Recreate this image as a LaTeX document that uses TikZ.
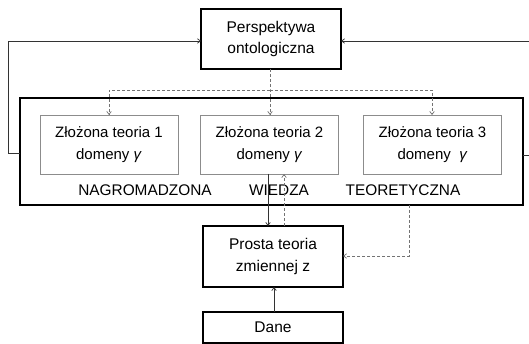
\documentclass[tikz,border=0pt]{standalone}
\usepackage{fontspec}
\setmainfont{Liberation Sans}
\usetikzlibrary{arrows.meta}
\tikzset{
  thickbox/.style={draw=black, line width=2.6pt, align=center, inner sep=0pt, outer sep=0pt, font=\fontsize{15.5}{21.5}\selectfont},
  thinbox/.style={draw=black!45, line width=0.9pt, align=center, inner sep=0pt, outer sep=0pt, minimum width=138pt, minimum height=59pt, font=\fontsize{15}{22}\selectfont},
  lbl/.style={inner sep=0pt, font=\fontsize{15.4}{18}\selectfont},
  conn/.style={draw=black!80, line width=0.7pt, -{Straight Barb[length=3pt,width=4.5pt]}},
  dconn/.style={draw=black!55, line width=0.7pt, dash pattern=on 3pt off 2pt, -{Straight Barb[length=3pt,width=4.5pt]}},
}
\begin{document}
\begin{tikzpicture}[x=1pt,y=-1pt]
\useasboundingbox (0,0) rectangle (529,344);
\fill[white] (0,0) rectangle (529,344);
% nodes
\node[thickbox, minimum width=140pt, minimum height=60pt] (persp) at (271,39) {Perspektywa\\ontologiczna};
\node[draw=black, line width=2.7pt, inner sep=0pt, outer sep=0pt, minimum width=503pt, minimum height=107pt] (big) at (271.5,151.5) {};
\node[thinbox] (t1) at (109,144.5) {Złożona teoria 1\\domeny \textit{γ}};
\node[thinbox] (t2) at (269.5,144.5) {Złożona teoria 2\\domeny \textit{γ}};
\node[thinbox] (t3) at (432.5,144.5) {Złożona teoria 3\\domeny \ \textit{γ}};
\node[lbl] (l1) at (145,190) {NAGROMADZONA};
\node[lbl] (l2) at (279,190) {WIEDZA};
\node[lbl] (l3) at (403,190) {TEORETYCZNA};
\node[thickbox, minimum width=140pt, minimum height=61pt] (prosta) at (273,256.5) {Prosta teoria\\zmiennej z};
\node[thickbox, minimum width=140pt, minimum height=31pt] (dane) at (273,327.5) {Dane};
% coordinates
\coordinate (lc1) at (8,153);
\coordinate (lc2) at (8,41);
\coordinate (rc1) at (532,155);
\coordinate (rc2) at (532,41);
\coordinate (dsplit) at (270,90);
\coordinate (dl) at (109,90);
\coordinate (dr) at (432,90);
\coordinate (bd) at (409,256);
% loops to top
\draw[conn] (big.west |- lc1) -- (lc1) -- (lc2) -- (persp.west |- lc2);
\draw[conn] (big.east |- rc1) -- (rc1) -- (rc2) -- (persp.east |- rc2);
% dashed fan-out
\draw[dconn] (persp.south -| dsplit) -- (dsplit) -- (t2.north -| dsplit);
\draw[dconn] (dsplit) -- (dl) -- (t1.north -| dl);
\draw[dconn] (dsplit) -- (dr) -- (t3.north -| dr);
% theory 2 <-> prosta
\draw[conn] (t2.south -| 268,0) -- (prosta.north -| 268,0);
\draw[dconn] (prosta.north -| 284,0) -- (t2.south -| 284,0);
% big box -> prosta (dashed)
\draw[dconn] (big.south -| bd) -- (bd) -- (prosta.east |- bd);
% dane -> prosta
\draw[conn] (dane.north -| 274,0) -- (prosta.south -| 274,0);
\end{tikzpicture}
\end{document}
